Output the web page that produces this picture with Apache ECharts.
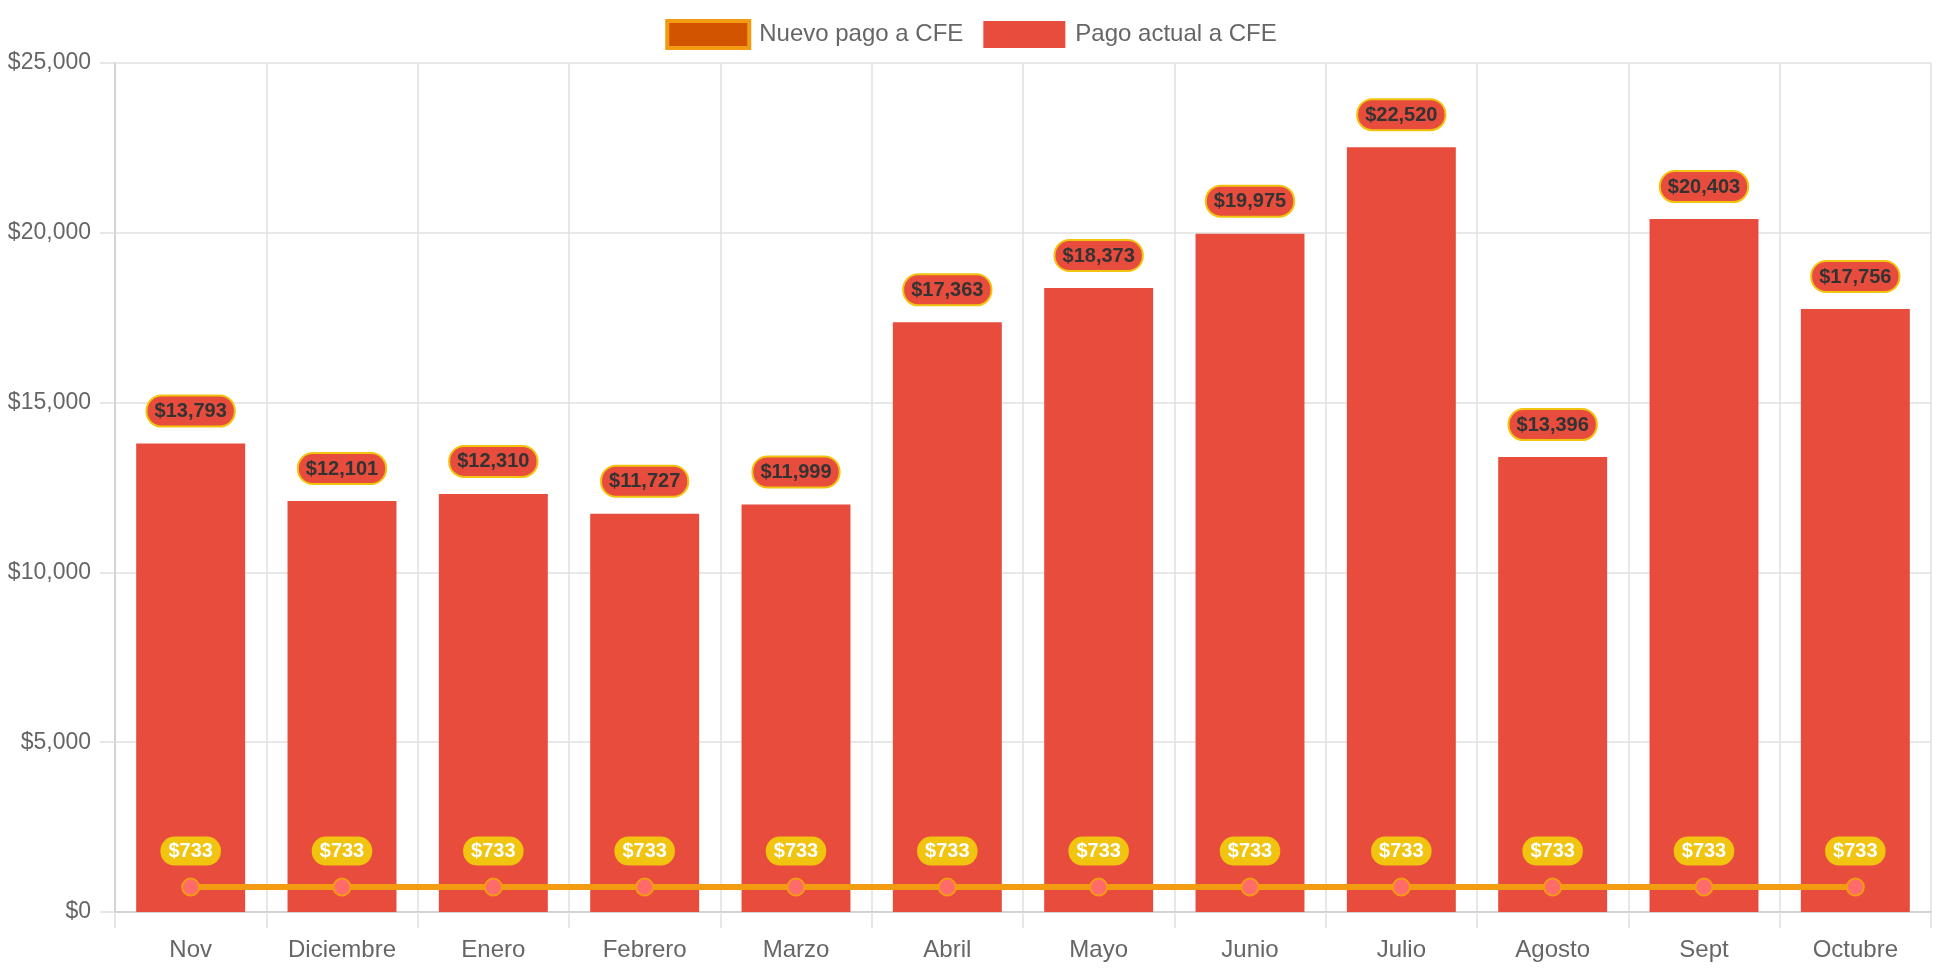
<!DOCTYPE html>
<html>
<head>
<meta charset="utf-8">
<script src="https://cdn.jsdelivr.net/npm/echarts@6/dist/echarts.min.js"></script>
<style>
html,body{margin:0;padding:0;background:#fff;}
#chart{width:1942px;height:970px;}
</style>
</head>
<body>
<div id="chart"></div>
<script>
const categories = ['Nov','Diciembre','Enero','Febrero','Marzo','Abril','Mayo','Junio','Julio','Agosto','Sept','Octubre'];
const pagoActual = [13793, 12101, 12310, 11727, 11999, 17363, 18373, 19975, 22520, 13396, 20403, 17756];
const nuevoPago = [733, 733, 733, 733, 733, 733, 733, 733, 733, 733, 733, 733];
const seriesNames = ['Nuevo pago a CFE', 'Pago actual a CFE'];

const FONT = '"Liberation Sans", Arial, Helvetica, sans-serif';
const fmt = v => '$' + Number(v).toLocaleString('en-US');

const chart = echarts.init(document.getElementById('chart'));
chart.setOption({
  animation: false,
  textStyle: { fontFamily: FONT },
  legend: {
    top: 14,
    left: 'center',
    itemWidth: 82,
    itemHeight: 27,
    itemGap: 20,
    textStyle: { fontSize: 24, color: '#666', fontFamily: FONT, padding: [0, 0, 0, 5] },
    data: [
      { name: seriesNames[0], icon: 'rect', itemStyle: { color: '#d35400', borderColor: '#f39c12', borderWidth: 4 } },
      { name: seriesNames[1], icon: 'rect', itemStyle: { color: '#e74c3c', borderWidth: 0 } }
    ]
  },
  grid: { left: 115, right: 11, top: 63, bottom: 58, containLabel: false },
  xAxis: {
    type: 'category',
    data: categories,
    boundaryGap: true,
    axisLine: { show: true, lineStyle: { color: '#cccccc', width: 1.5 } },
    axisTick: { show: true, length: 16, lineStyle: { color: '#e0e0e0', width: 1.5 } },
    splitLine: { show: true, lineStyle: { color: '#e0e0e0', width: 1.5 } },
    axisLabel: { fontSize: 24, color: '#666', margin: 26, fontFamily: FONT }
  },
  yAxis: {
    type: 'value',
    min: 0,
    max: 25000,
    interval: 5000,
    axisLine: { show: true, lineStyle: { color: '#cccccc', width: 1.5 } },
    axisTick: { show: true, length: 15, lineStyle: { color: '#e0e0e0', width: 1.5 } },
    splitLine: { show: true, lineStyle: { color: '#e0e0e0', width: 1.5 } },
    axisLabel: { fontSize: 23, color: '#666', margin: 24, fontFamily: FONT, formatter: v => fmt(v) }
  },
  series: [
    {
      name: seriesNames[1],
      type: 'bar',
      data: pagoActual,
      barWidth: '72%',
      itemStyle: { color: '#e74c3c' },
      z: 2,
      label: {
        show: true,
        position: 'top',
        distance: 18,
        formatter: p => fmt(p.value),
        fontSize: 20,
        fontWeight: 'bold',
        color: '#333',
        fontFamily: FONT,
        backgroundColor: '#e74c3c',
        borderColor: '#f1c40f',
        borderWidth: 2,
        borderRadius: 14,
        padding: [5, 7, 4, 7]
      }
    },
    {
      name: seriesNames[0],
      type: 'line',
      data: nuevoPago,
      z: 3,
      symbol: 'circle',
      symbolSize: 17,
      lineStyle: { color: '#f39c12', width: 6 },
      itemStyle: { color: '#ff6b6b', borderColor: '#f39c12', borderWidth: 2 },
      label: {
        show: true,
        position: 'top',
        distance: 12,
        formatter: p => fmt(p.value),
        fontSize: 20,
        fontWeight: 'bold',
        color: '#fff',
        fontFamily: FONT,
        backgroundColor: '#f1c40f',
        borderRadius: 14,
        padding: [5, 8, 4, 8]
      }
    }
  ]
});
</script>
</body>
</html>
